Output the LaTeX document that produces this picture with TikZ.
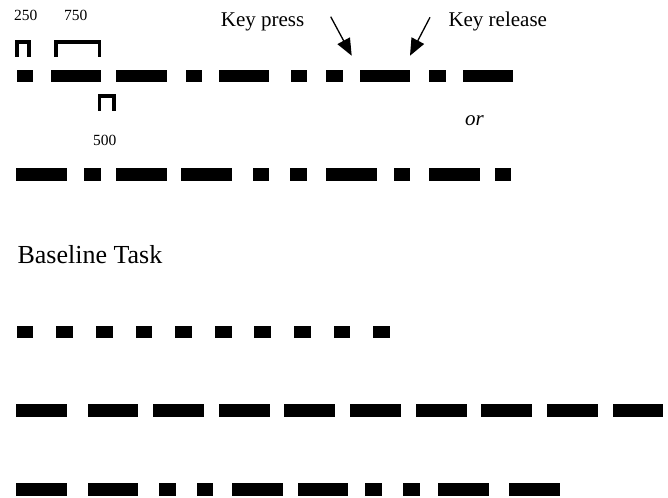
\documentclass[tikz,border=0pt]{standalone}
\usepackage{fontspec}
\setmainfont{Liberation Serif}
\usetikzlibrary{arrows.meta}
\begin{document}
\begin{tikzpicture}[x=1pt,y=-1pt,
  bar/.style={fill=black},
  bracket/.style={line width=3.3pt,line join=miter},
  lbl/.style={inner sep=0pt,anchor=base,font=\fontsize{15.5}{18}\selectfont},
  caption/.style={inner sep=0pt,anchor=base west,font=\fontsize{21}{25}\selectfont},
  pointer/.style={line width=1.3pt,-{Triangle[length=17pt,width=14pt]}}]
\useasboundingbox (0,0) rectangle (668,497);
% row 1
\foreach \a/\b in {16.7/33.3, 50.7/101, 116/166.7, 185.7/201.7, 219.3/269.3, 290.7/307.3, 326/342.7, 360/410, 429.3/446, 463.3/513.3}
  \fill[bar] (\a,70) rectangle (\b,82);
% row 2
\foreach \a/\b in {16/67.3, 84.3/101, 116/166.7, 181.3/232.3, 252.7/269.3, 290.3/307, 325.7/376.7, 393.7/410, 429.3/480, 494.7/511.3}
  \fill[bar] (\a,168) rectangle (\b,181);
% row 3 (baseline)
\foreach \i in {0,...,9}
  \fill[bar] ({16.7+\i*39.62},325.7) rectangle ({33.4+\i*39.62},337.7);
% row 4
\foreach \a/\b in {16/67.3, 87.7/138.3, 153/204.3, 219/270, 284.3/335.3, 350/400.7, 416/466.7, 481.3/532.3, 547/598, 612.7/663.3}
  \fill[bar] (\a,404.3) rectangle (\b,417.3);
% row 5
\foreach \a/\b in {16/67.3, 87.7/138.3, 159.3/175.7, 196.7/213.3, 232.3/282.7, 297.7/348.3, 365.3/382, 402.7/419.7, 438.3/489, 509.3/560}
  \fill[bar] (\a,483) rectangle (\b,496);
% brackets
\draw[bracket] (17,57) -- (17,42) -- (29,42) -- (29,57);
\draw[bracket] (56,57) -- (56,42) -- (99.3,42) -- (99.3,57);
\draw[bracket] (99.3,111) -- (99.3,96) -- (114,96) -- (114,111);
% bracket labels
\node[lbl] (l250) at (25.8,21) {250};
\node[lbl] (l750) at (75.8,21) {750};
\node[lbl] (l500) at (104.8,146) {500};
% key labels
\node[caption] (press) at (220.7,26.7) {Key press};
\node[caption] (release) at (448.3,26.7) {Key release};
\node[caption,font=\fontsize{21}{25}\selectfont\itshape] (or) at (465,126) {or};
\node[inner sep=0pt,anchor=base west,font=\fontsize{26}{30}\selectfont] (base) at (17.3,263.3) {Baseline Task};
% arrows
\coordinate (pressFrom) at (330.7,16.7);
\coordinate (pressTo) at (351.7,55.7);
\coordinate (relFrom) at (430,17.3);
\coordinate (relTo) at (410,55.7);
\draw[pointer] (pressFrom) -- (pressTo);
\draw[pointer] (relFrom) -- (relTo);
\end{tikzpicture}
\end{document}
